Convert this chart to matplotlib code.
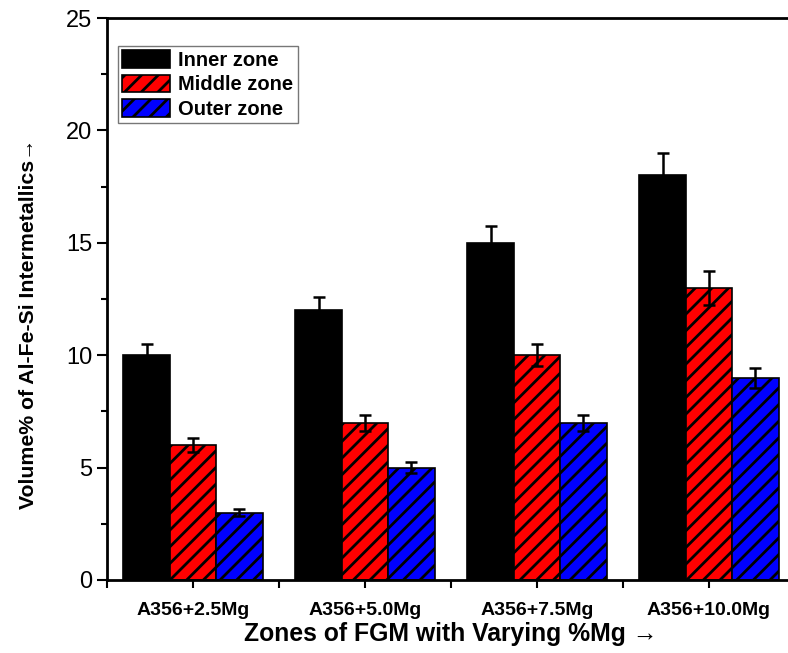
import numpy as np
import matplotlib
matplotlib.use("Agg")
import matplotlib.pyplot as plt
from matplotlib.ticker import MultipleLocator, FixedLocator

plt.rcParams['font.family'] = ['Liberation Sans', 'DejaVu Sans']
plt.rcParams['hatch.linewidth'] = 2.0

# data
groups = ["A356+2.5Mg", "A356+5.0Mg", "A356+7.5Mg", "A356+10.0Mg"]
zones = ["Inner zone", "Middle zone", "Outer zone"]
inner = [10, 12, 15, 18]
middle = [6, 7, 10, 13]
outer = [3, 5, 7, 9]
inner_err = [0.5, 0.6, 0.75, 1.0]
middle_err = [0.3, 0.35, 0.5, 0.75]
outer_err = [0.15, 0.25, 0.35, 0.45]

colors = ["black", "red", "blue"]
hatches = [None, "//", "//"]

fig = plt.figure(figsize=(7.88, 6.53), dpi=100)
ax = fig.add_axes([0.1358, 0.1118, 0.873, 0.8606])

x = np.arange(1, len(groups) + 1)
w = 0.27
series = [inner, middle, outer]
errs = [inner_err, middle_err, outer_err]
for i in range(3):
    ax.bar(x + (i - 1) * w, series[i], w, color=colors[i], edgecolor="black",
           linewidth=1.2, hatch=hatches[i], label=zones[i],
           yerr=errs[i], capsize=4.5,
           error_kw=dict(ecolor="black", elinewidth=1.8, capthick=1.8))

ax.set_xlim(0.5, 4.5)
ax.set_ylim(0, 25)
ax.set_xticks(x)
ax.set_xticklabels(groups, fontsize=14, fontweight="bold")
ax.xaxis.set_minor_locator(FixedLocator([0.5, 1.5, 2.5, 3.5]))
ax.yaxis.set_major_locator(MultipleLocator(5))
ax.yaxis.set_minor_locator(MultipleLocator(2.5))
ax.tick_params(axis="y", which="major", labelsize=17, length=7, width=1.5, direction="out")
ax.tick_params(axis="y", which="minor", length=4, width=1.5, direction="out")
ax.tick_params(axis="x", which="major", length=6, width=1.5, direction="out", pad=10)
ax.tick_params(axis="x", which="minor", length=6, width=1.5, direction="out")
for s in ax.spines.values():
    s.set_linewidth(2)

ax.set_xlabel("Zones of FGM with Varying %Mg \u2192", fontsize=17.8, fontweight="bold", labelpad=2)
ax.set_ylabel("Volume% of Al-Fe-Si Intermetallics\u2192", fontsize=15.3, fontweight="bold")
ax.yaxis.set_label_coords(-0.1, 0.455)

leg = ax.legend(loc="upper left", bbox_to_anchor=(0.016, 0.95),
                prop=dict(weight="bold", size=14.5), frameon=True, fancybox=False,
                edgecolor="#555555", handlelength=2.4, handleheight=0.95,
                borderpad=0.2, labelspacing=0.25, handletextpad=0.4,
                borderaxespad=0)
leg.get_frame().set_linewidth(1.0)

fig.savefig("out.png", dpi=100)
